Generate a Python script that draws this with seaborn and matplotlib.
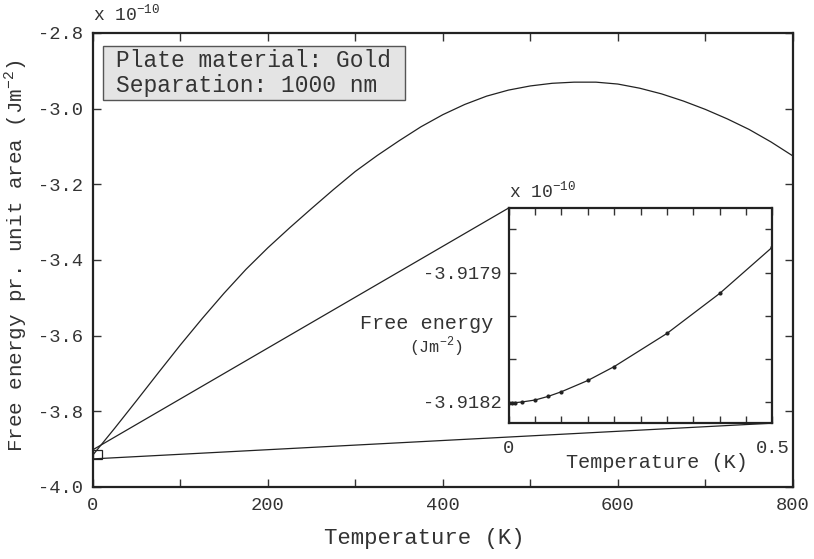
import numpy as np
import pandas as pd
import seaborn as sns
import matplotlib.pyplot as plt
from matplotlib.patches import Rectangle, ConnectionPatch

# main curve (free energy in units of 1e-10 J/m^2)
temp = [0, 25, 50, 75, 100, 125, 150, 175, 200, 225, 250, 275, 300, 325,
        350, 375, 400, 425, 450, 475, 500, 525, 550, 575, 600, 625, 650,
        675, 700, 725, 750, 775, 800]
energy = [-3.916, -3.845, -3.772, -3.698, -3.625, -3.555, -3.488, -3.425,
          -3.368, -3.315, -3.264, -3.214, -3.166, -3.124, -3.085, -3.048,
          -3.016, -2.989, -2.967, -2.951, -2.940, -2.933, -2.930, -2.930,
          -2.935, -2.946, -2.961, -2.980, -3.002, -3.027, -3.055, -3.088,
          -3.125]

# zoom on low temperatures
temp_low = [0, 0.00625, 0.0125, 0.025, 0.05, 0.075, 0.1, 0.15, 0.2, 0.3, 0.4, 0.5]
energy_low = [-3.918203, -3.918203, -3.9182023, -3.9182008, -3.9181962,
              -3.9181877, -3.9181769, -3.9181508, -3.9181185, -3.9180415,
              -3.9179485, -3.9178408]

sns.set_style('ticks')
plt.rcParams['font.family'] = ['Liberation Mono', 'DejaVu Sans Mono']
plt.rcParams['axes.unicode_minus'] = False
plt.rcParams['mathtext.fontset'] = 'custom'
plt.rcParams['mathtext.rm'] = 'Liberation Mono'

df = pd.DataFrame({'T': temp, 'F': energy})
df_low = pd.DataFrame({'T': temp_low, 'F': energy_low})

fig = plt.figure(figsize=(8.14, 5.59), dpi=100)
ax = fig.add_axes([0.114, 0.129, 0.86, 0.812])
sns.lineplot(data=df, x='T', y='F', ax=ax, color='#222222', linewidth=0.9)
ax.set_xlim(0, 800)
ax.set_ylim(-4.0, -2.8)
ax.set_xticks(np.arange(0, 801, 100))
ax.set_xticklabels([str(t) if t % 200 == 0 else '' for t in range(0, 801, 100)])
ax.set_yticks(np.arange(-4.0, -2.79, 0.2))
ax.set_yticklabels(['%.1f' % v for v in np.arange(-4.0, -2.79, 0.2)])
ax.tick_params(direction='in', length=6, width=1, top=True, right=True,
               labelsize=13.5, colors='#333333', pad=7)
for s in ax.spines.values():
    s.set_linewidth(1.6)
    s.set_color('#222222')
ax.set_xlabel('Temperature (K)', fontsize=16, color='#333333')
ax.xaxis.set_label_coords(0.473, -0.09)
ax.set_ylabel(r'Free energy pr. unit area (Jm$^{\mathregular{-2}}$)',
              fontsize=15, color='#333333')
ax.yaxis.set_label_coords(-0.09, 0.51)
ax.text(0.0, 1.02, r'x 10$^{\mathregular{-10}}$', transform=ax.transAxes,
        fontsize=13, color='#333333', va='bottom', ha='left')

# info box
ax.add_patch(Rectangle((0.0143, 0.852), 0.4314, 0.119, transform=ax.transAxes,
                       fc='#e4e4e4', ec='#555555', lw=1, zorder=3))
ax.text(0.23, 0.9115, 'Plate material: Gold\nSeparation: 1000 nm',
        transform=ax.transAxes, fontsize=16.5, color='#333333', va='center',
        ha='center', multialignment='left', linespacing=1.12, zorder=4)

# marker box for zoom
ax.add_patch(Rectangle((0, -3.926), 10, 0.024, fill=False, ec='#222222', lw=0.9))

ins = fig.add_axes([0.625, 0.243, 0.324, 0.385])
sns.lineplot(data=df_low, x='T', y='F', ax=ins, color='#222222', linewidth=0.9,
             marker='o', markersize=3, markeredgewidth=0)
ins.set_xlim(0, 0.5)
ins.set_ylim(-3.91825, -3.91775)
ins.set_xticks(np.linspace(0, 0.5, 11))
ins.set_xticklabels(['0'] + [''] * 9 + ['0.5'])
ins.set_yticks([-3.9182, -3.9181, -3.9180, -3.9179, -3.9178])
ins.set_yticklabels(['-3.9182', '', '', '-3.9179', ''])
ins.tick_params(direction='in', length=5, width=1, top=True, right=True,
                labelsize=13.5, colors='#333333')
ins.tick_params(axis='x', pad=12)
ins.tick_params(axis='y', pad=5)
for s in ins.spines.values():
    s.set_linewidth(1.6)
    s.set_color('#222222')
ins.set_xlabel('Temperature (K)', fontsize=14.5, color='#333333')
ins.xaxis.set_label_coords(0.56, -0.14)
ins.set_ylabel('')
ins.text(-0.31, 0.465, 'Free energy', transform=ins.transAxes, fontsize=14.5,
         color='#333333', ha='center', va='center')
ins.text(-0.275, 0.355, r'(Jm$^{\mathregular{-2}}$)', transform=ins.transAxes,
         fontsize=12, color='#333333', ha='center', va='center')
ins.text(0.0, 1.03, r'x 10$^{\mathregular{-10}}$', transform=ins.transAxes,
         fontsize=13, color='#333333', va='bottom', ha='left')

for xy_main, xy_ins in [((0, -3.902), (0, 1)), ((0, -3.926), (1, 0))]:
    con = ConnectionPatch(xyA=xy_main, coordsA=ax.transData,
                          xyB=xy_ins, coordsB=ins.transAxes,
                          color='#222222', lw=0.9)
    fig.add_artist(con)

fig.savefig('out.png', dpi=100)
